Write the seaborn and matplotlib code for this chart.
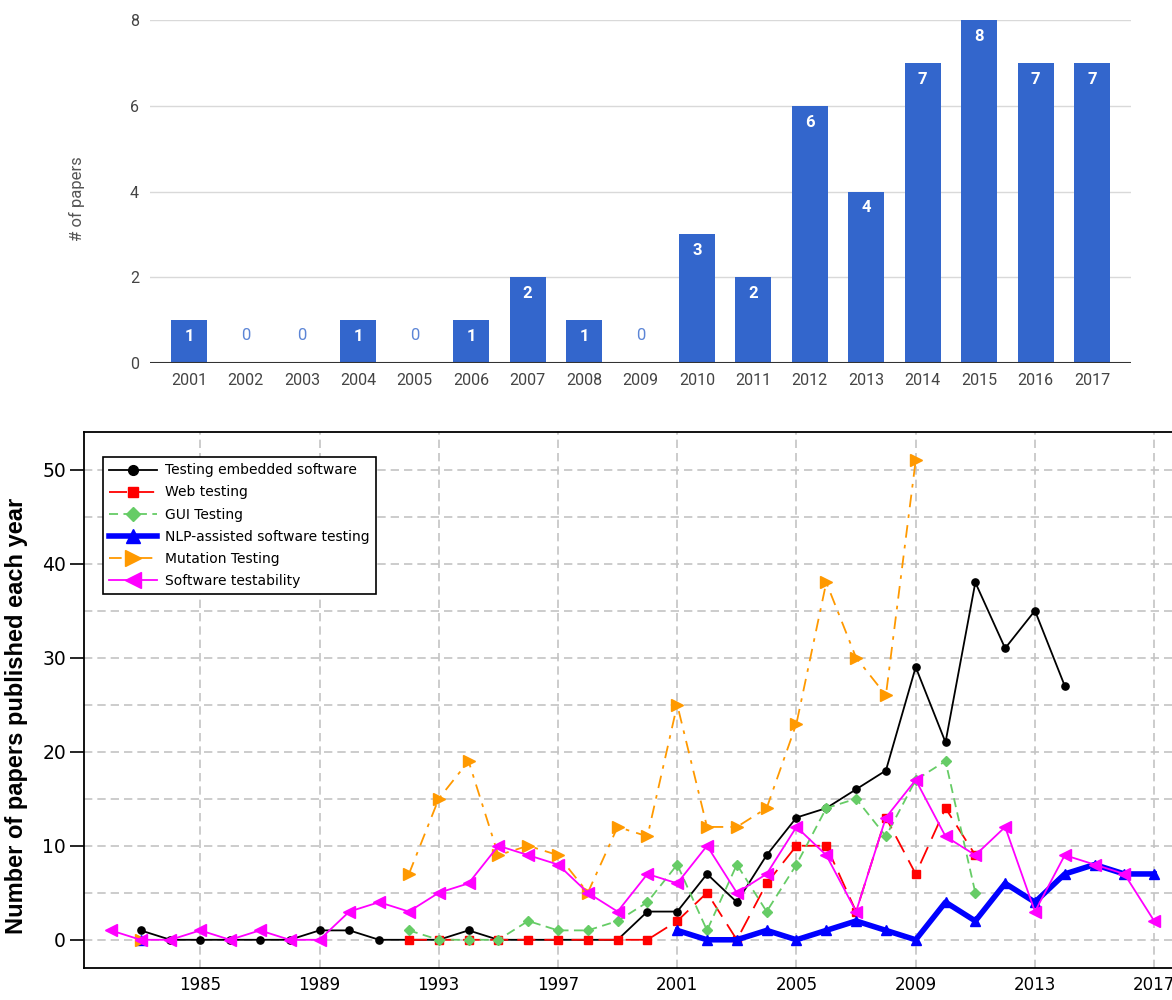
import numpy as np
import pandas as pd
import matplotlib
matplotlib.use("Agg")
import matplotlib.pyplot as plt
from matplotlib.ticker import MultipleLocator, FixedLocator
import seaborn as sns

# ---------------- data ----------------
bar_years = [str(y) for y in range(2001, 2018)]
bar_counts = [1, 0, 0, 1, 0, 1, 2, 1, 0, 3, 2, 6, 4, 7, 8, 7, 7]

embedded_years = list(range(1983, 2015))
embedded = [1, 0, 0, 0, 0, 0, 1, 1, 0, 0, 0, 1, 0, 0, 0, 0, 0, 3, 3, 7, 4, 9,
            13, 14, 16, 18, 29, 21, 38, 31, 35, 27]

web_years = list(range(1992, 2012))
web = [0, 0, 0, 0, 0, 0, 0, 0, 0, 2, 5, 0, 6, 10, 10, 3, 13, 7, 14, 9]

gui_years = list(range(1992, 2012))
gui = [1, 0, 0, 0, 2, 1, 1, 2, 4, 8, 1, 8, 3, 8, 14, 15, 11, 17, 19, 5]

nlp_years = [1983] + list(range(2001, 2018))
nlp = [0] + [1, 0, 0, 1, 0, 1, 2, 1, 0, 4, 2, 6, 4, 7, 8, 7, 7]

mutation_years = [1983] + list(range(1992, 2010))
mutation = [0] + [7, 15, 19, 9, 10, 9, 5, 12, 11, 25, 12, 12, 14, 23, 38, 30, 26, 51]

testability_years = list(range(1982, 2018))
testability = [1, 0, 0, 1, 0, 1, 0, 0, 3, 4, 3, 5, 6, 10, 9, 8, 5, 3, 7, 6,
               10, 5, 7, 12, 9, 3, 13, 17, 11, 9, 12, 3, 9, 8, 7, 2]

series_names = ["Testing embedded software", "Web testing", "GUI Testing",
                "NLP-assisted software testing", "Mutation Testing",
                "Software testability"]
series_years = [embedded_years, web_years, gui_years, nlp_years,
                mutation_years, testability_years]
series_vals = [embedded, web, gui, nlp, mutation, testability]

x_ticks = list(range(1985, 2018, 4))

# ---------------- styles ----------------
styles = {
    "Testing embedded software": dict(color="black", marker="o", ms=5.2, lw=1.3, ls="-"),
    "Web testing": dict(color="#FF0000", marker="s", ms=5.5, lw=1.3, ls=(0, (10, 5))),
    "GUI Testing": dict(color="#66CC66", marker="D", ms=5.0, lw=1.3, ls=(0, (5, 3))),
    "NLP-assisted software testing": dict(color="#0000FF", marker="^", ms=7.5, lw=4.0, ls="-"),
    "Mutation Testing": dict(color="#FF9900", marker=">", ms=8.5, lw=1.3, ls=(0, (7, 4, 2, 4))),
    "Software testability": dict(color="#FF00FF", marker="<", ms=8.5, lw=1.3, ls="-"),
}

fig = plt.figure(figsize=(11.72, 10.0), dpi=100)

# ---------------- top bar chart ----------------
ax1 = fig.add_axes([150 / 1172, 0.637, 981 / 1172, 0.343])
sns.barplot(x=bar_years, y=bar_counts, color="#3366CC", saturation=1,
            width=0.64, ax=ax1, zorder=3)
ax1.set_xlim(-0.69, 16.69)
ax1.set_ylim(0, 8)
ax1.set_yticks([0, 2, 4, 6, 8])
for s in ax1.spines.values():
    s.set_visible(False)
ax1.yaxis.grid(True, color="#d9d9d9", lw=1.0, zorder=0)
ax1.set_axisbelow(True)
ax1.axhline(0, color="#333333", lw=1.5, zorder=4)
ax1.tick_params(axis="both", length=0, labelcolor="#444444", labelsize=11.5)
ax1.tick_params(axis="x", pad=7)
ax1.tick_params(axis="y", pad=8)
for lab in ax1.get_xticklabels() + ax1.get_yticklabels():
    lab.set_family("Roboto")
ax1.set_ylabel("# of papers", fontsize=12, color="#555555", family="Roboto")
ax1.yaxis.set_label_coords(-0.066, 0.48)
ax1.set_xlabel("")
for i, v in enumerate(bar_counts):
    if v > 0:
        ax1.text(i, v - 0.38, str(v), ha="center", va="center", color="white",
                 fontsize=12, fontweight="bold", family="Roboto", zorder=5)
    else:
        ax1.text(i, 0.63, "0", ha="center", va="center", color="#5C85D6",
                 fontsize=12, family="Roboto", zorder=5)

# ---------------- bottom line chart ----------------
ax2 = fig.add_axes([84 / 1172, 0.032, 1100 / 1172, 0.536])


def split_runs(years, vals):
    runs, cur_x, cur_y = [], [], []
    for x, y in zip(years, vals):
        if cur_x and x - cur_x[-1] > 1:
            runs.append((cur_x, cur_y))
            cur_x, cur_y = [], []
        cur_x.append(x)
        cur_y.append(y)
    if cur_x:
        runs.append((cur_x, cur_y))
    return runs


for name, yrs, vals in zip(series_names, series_years, series_vals):
    st = styles[name]
    for k, (rx, ry) in enumerate(split_runs(yrs, vals)):
        df = pd.DataFrame({"year": rx, "papers": ry})
        sns.lineplot(data=df, x="year", y="papers", ax=ax2,
                     color=st["color"], marker=st["marker"], markersize=st["ms"],
                     mec=st["color"], mfc=st["color"], mew=1.0,
                     linewidth=st["lw"], linestyle=st["ls"],
                     label=name if k == 0 else "_nolegend_", zorder=3)

ax2.set_xlim(1981.1, 2018.0)
ax2.set_ylim(-3, 54)
ax2.xaxis.set_major_locator(FixedLocator(x_ticks))
ax2.yaxis.set_major_locator(MultipleLocator(10))
ax2.yaxis.set_minor_locator(MultipleLocator(5))
ax2.grid(True, which="major", color="#c4c4c4", lw=1.2, ls=(0, (5, 3)), zorder=0)
ax2.yaxis.grid(True, which="minor", color="#c4c4c4", lw=1.2, ls=(0, (5, 3)), zorder=0)
ax2.set_axisbelow(True)
for s in ax2.spines.values():
    s.set_color("black")
    s.set_linewidth(1.3)
ax2.tick_params(axis="y", which="major", direction="out", length=10, width=1.2,
                labelsize=13.5, pad=3, colors="black")
ax2.tick_params(axis="y", which="minor", length=0)
ax2.tick_params(axis="x", which="major", length=0, labelsize=12, pad=6)
ax2.set_xlabel("")
ax2.set_ylabel("Number of papers published each year", fontsize=17,
               fontweight="bold", family="Liberation Sans")
ax2.yaxis.set_label_coords(-0.051, 0.47)

leg = ax2.legend(loc="upper left", bbox_to_anchor=(0.0173, 0.953),
                 borderaxespad=0,
                 fontsize=10, frameon=True, fancybox=False, framealpha=1,
                 edgecolor="black", handlelength=3.4, handletextpad=0.6,
                 labelspacing=0.58, borderpad=0.45, markerscale=1.35)
leg.get_frame().set_linewidth(1.2)

fig.savefig("out.png", dpi=100)
